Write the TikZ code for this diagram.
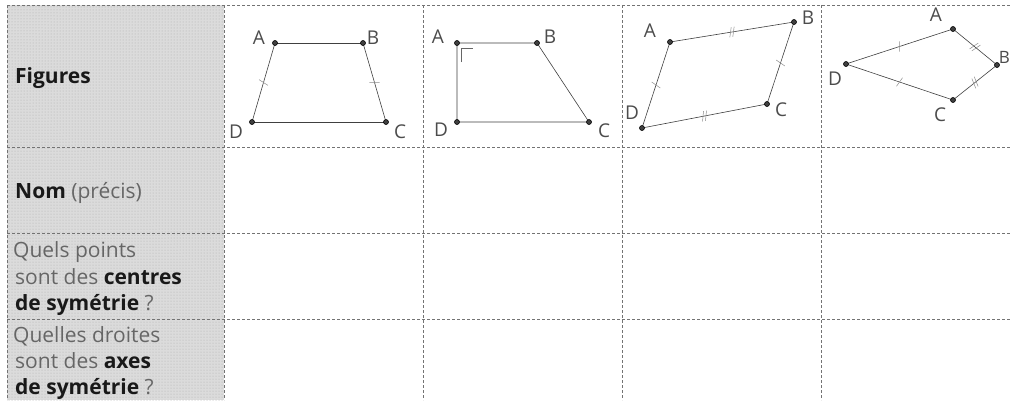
\documentclass[tikz,border=0pt]{standalone}
\usepackage{fontspec}
\setmainfont{Open Sans}
\usetikzlibrary{patterns,decorations.markings}
\begin{document}
\begin{tikzpicture}[x=1pt,y=-1pt,
  grid/.style={draw=black!55, line width=0.6pt, densely dashed},
  seg/.style={draw=black!75, line width=0.6pt},
  vtx/.style={circle, draw=black, fill=black!75, line width=0.6pt, inner sep=0pt, minimum size=5pt},
  lab/.style={font=\fontsize{19}{19}\selectfont, text=black!70, inner sep=0pt},
  onetick/.style={postaction={decorate, decoration={markings, mark=at position 0.5 with {\draw[black!45, line width=0.5pt, solid] (-1.5pt,-5pt) -- (1.5pt,5pt);}}}},
  twotick/.style={postaction={decorate, decoration={markings, mark=at position 0.5 with {\draw[black!45, line width=0.5pt, solid] (-3pt,-5pt) -- (0pt,5pt) (0pt,-5pt) -- (3pt,5pt);}}}},
  hd/.style={anchor=base west, inner sep=0pt, font=\fontsize{21}{26.5}\selectfont, text=black!60},
]
\fill[white] (0,0) rectangle (1010,400);
\useasboundingbox (0,0) rectangle (1010,400);

% shaded first column
\fill[black!14] (7,5) rectangle (224,400);
\fill[pattern=dots, pattern color=black!32] (7,5) rectangle (224,400);

% grid
\foreach \yy in {5,147,233,319} \draw[grid] (7,\yy) -- (1010,\yy);
\foreach \xx in {7,224,423,622,821} \draw[grid] (\xx,5) -- (\xx,400);

% row headers
\node[hd] (h1) at (15,83) {\textbf{\color{black!90}Figures}};
\node[hd] (h2) at (15,198) {\textbf{\color{black!90}Nom} (précis)};
\node[hd] (h3a) at (13,257) {Quels points};
\node[hd] (h3b) at (15,284) {sont des \textbf{\color{black!90}centres}};
\node[hd] (h3c) at (15,310) {\textbf{\color{black!90}de symétrie} ?};
\node[hd] (h4a) at (13,342) {Quelles droites};
\node[hd] (h4b) at (15,368) {sont des \textbf{\color{black!90}axes}};
\node[hd] (h4c) at (15,394) {\textbf{\color{black!90}de symétrie} ?};

% ---- figure 1: isosceles trapezoid
\coordinate (a1) at (275,43); \coordinate (b1) at (363,43);
\coordinate (c1) at (386,122); \coordinate (d1) at (252,122);
\draw[seg] (a1) -- (b1);
\draw[seg, onetick] (b1) -- (c1);
\draw[seg] (c1) -- (d1);
\draw[seg, onetick] (d1) -- (a1);
\foreach \p in {a1,b1,c1,d1} \node[vtx] at (\p) {};
\node[lab] (la1) at (259,38) {A};
\node[lab] (lb1) at (373,38) {B};
\node[lab] (lc1) at (400,132) {C};
\node[lab] (ld1) at (236,132) {D};

% ---- figure 2: right trapezoid
\coordinate (a2) at (457,43); \coordinate (b2) at (537,43);
\coordinate (c2) at (589,122); \coordinate (d2) at (457,122);
\draw[seg] (a2) -- (b2) -- (c2) -- (d2) -- cycle;
\draw[black!60, line width=0.5pt] (461,62) -- (461,48) -- (473,48);
\foreach \p in {a2,b2,c2,d2} \node[vtx] at (\p) {};
\node[lab] (la2) at (438,37) {A};
\node[lab] (lb2) at (550,37) {B};
\node[lab] (lc2) at (604,131) {C};
\node[lab] (ld2) at (441,130) {D};

% ---- figure 3: parallelogram
\coordinate (a3) at (670,42); \coordinate (b3) at (794,22);
\coordinate (c3) at (767,104); \coordinate (d3) at (642,128);
\draw[seg, twotick] (a3) -- (b3);
\draw[seg, onetick] (b3) -- (c3);
\draw[seg, twotick] (c3) -- (d3);
\draw[seg, onetick] (d3) -- (a3);
\foreach \p in {a3,b3,c3,d3} \node[vtx] at (\p) {};
\node[lab] (la3) at (650,31) {A};
\node[lab] (lb3) at (808,18) {B};
\node[lab] (lc3) at (781,110) {C};
\node[lab] (ld3) at (632,113) {D};

% ---- figure 4: kite
\coordinate (a4) at (953,29); \coordinate (b4) at (997,65);
\coordinate (c4) at (953,100); \coordinate (d4) at (846,64);
\draw[seg, twotick] (a4) -- (b4);
\draw[seg, twotick] (b4) -- (c4);
\draw[seg, onetick] (c4) -- (d4);
\draw[seg, onetick] (d4) -- (a4);
\foreach \p in {a4,b4,c4,d4} \node[vtx] at (\p) {};
\node[lab] (la4) at (936,15) {A};
\node[lab, anchor=east, font=\fontsize{17}{17}\selectfont] (lb4) at (1010,57) {B};
\node[lab] (lc4) at (940,115) {C};
\node[lab] (ld4) at (835,79) {D};
\end{tikzpicture}
\end{document}
